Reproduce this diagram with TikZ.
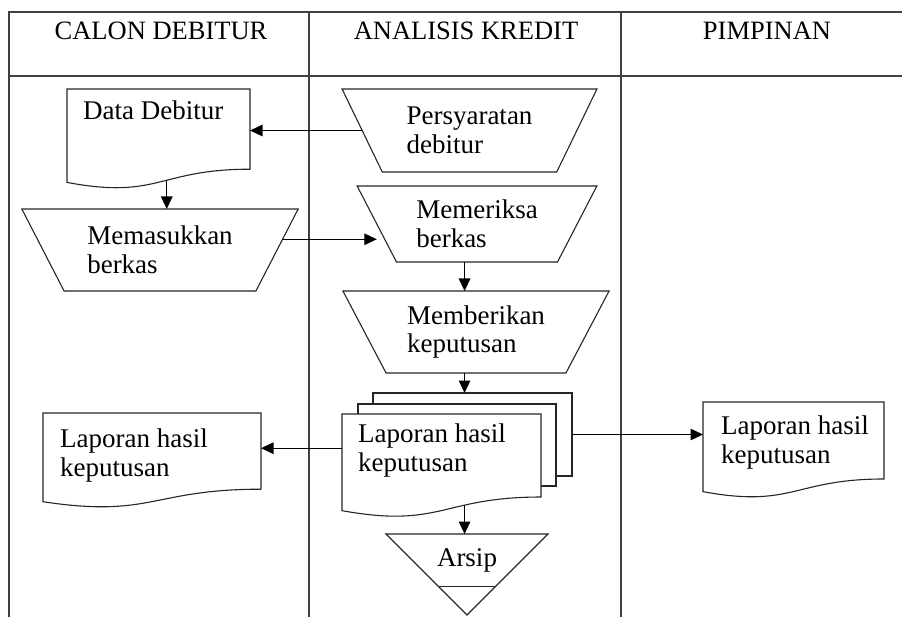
\documentclass[tikz,border=0pt]{standalone}
\usepackage{fontspec}
\setmainfont{Liberation Serif}
\usetikzlibrary{arrows.meta,shapes.geometric,calc}
\newcommand{\boxfont}   {\fontsize{27}{28.5}\selectfont}
\newcommand{\lanefont}  {\fontsize{26.5}{28}\selectfont}
% outline of a document symbol round an empty node
\newcommand{\docline}[2][.35]{%
  \filldraw[shp,fill=white] (#2.north west) -- (#2.north east) --
    ($(#2.north east)!0.802!(#2.south east)$) .. controls
    ($(#2.north)!0.802!(#2.south)$) and ($(#2.north)!1.107!(#2.south)$) ..
    ($(#2.north west)!0.934!(#2.south west)$) coordinate[pos=#1] (#2-w) -- cycle;}

\begin{document}
\begin{tikzpicture}[x=1pt,y=-1pt,
    >={Triangle[length=12.5pt,width=11.5pt]},
    shp/.style={draw=black!85,line width=1.1pt},
    tbl/.style={draw=black!75,line width=1.6pt},
    arr/.style={->,line width=1.2pt},
    manop/.style={shp,fill=white,shape=trapezium,shape border rotate=180,
      trapezium stretches=true,trapezium angle=58,align=left,
      inner sep=0pt,outer sep=0pt,font=\boxfont},
    docbox/.style={inner sep=0pt,outer sep=0pt,anchor=north west},
    txt/.style={inner sep=0pt,anchor=base west,align=left,font=\boxfont},
    head/.style={inner sep=0pt,anchor=base,font=\lanefont}]
       \path[use as bounding box,clip] (0,0) rectangle (902,616);
       % lanes
       \draw[tbl] (9,12) rectangle (911,640);
       \draw[tbl] (9,76) -- (911,76);
       \draw[tbl] (309,12) -- (309,640);
       \draw[tbl] (621,12) -- (621,640);
       \node[head] (lane1) at (161,39) {CALON DEBITUR};
       \node[head] (lane2) at (466,39) {ANALISIS KREDIT};
       \node[head] (lane3) at (767,39) {PIMPINAN};

       % calon debitur
       \node[docbox,minimum width=183pt,minimum height=100pt] (dd) at (67,89) {};
       \docline[.44]{dd}
       \node[txt] (dd-t) at (83,119) {Data Debitur};
       \node[manop,trapezium angle=56,minimum width=277pt,minimum height=82pt]
         (mas) at (160,250) {Memasukkan\\berkas};
       \node[docbox,minimum width=218pt,minimum height=95pt] (ld) at (43,413) {};
       \docline{ld}
       % base of a two-line text is its last line
       \node[txt] (ld-t) at (60,476) {Laporan hasil\\keputusan};

       % analisis kredit
       \node[manop,minimum width=255pt,minimum height=83pt]
         (pers) at (469.5,130.5) {Persyaratan\\debitur};
       \node[manop,minimum width=240pt,minimum height=76pt]
         (mer) at (477,224) {Memeriksa\\berkas};
       \node[manop,minimum width=267pt,minimum height=82pt]
         (mbr) at (476,332) {Memberikan\\keputusan};
       \node[docbox,shp,fill=white,minimum width=199pt,minimum height=83pt] (md3) at (373,393) {};
       \node[docbox,shp,fill=white,minimum width=198pt,minimum height=82pt] (md2) at (358,404) {};
       \node[docbox,minimum width=199pt,minimum height=103.5pt] (lap) at (342,414) {};
       \docline{lap}
       \node[txt] (lap-t) at (358,471) {Laporan hasil\\keputusan};
       \node[inner sep=0pt,outer sep=0pt,minimum width=162pt,minimum height=81pt,anchor=north]
         (arsip) at (467,534) {};
       \filldraw[shp,fill=white] (arsip.north west) -- (arsip.north east) -- (arsip.south) -- cycle;
       \draw[shp] ($(arsip.north west)!0.65!(arsip.south)$) -- ($(arsip.north east)!0.65!(arsip.south)$);
       \node[txt,anchor=base] (arsip-t) at ($(arsip.north)+(0,32)$) {Arsip};

       % pimpinan
       \node[docbox,minimum width=181pt,minimum height=96pt] (rd) at (703,402) {};
       \docline{rd}
       \node[txt] (rd-t) at (721,463) {Laporan hasil\\keputusan};

       % flow
       \draw[arr] (pers.west) -- (pers.west -| dd.east);
       \draw[arr] (dd-w) -- (dd-w |- mas.north);
       \draw[arr] (mas.5) -- (mas.5 -| mer.west);
       \draw[arr] (mer.south -| lap-w) -- (mbr.north -| lap-w);
       \draw[arr] (mbr.south -| lap-w) -- (md3.north -| lap-w);
       \draw[arr] (lap-w) -- (lap-w |- arsip.north);
       \draw[arr] (lap.170) -- (lap.170 -| ld.east);
       \draw[arr] (md3.east) -- (md3.east -| rd.west);
\end{tikzpicture}
\end{document}
